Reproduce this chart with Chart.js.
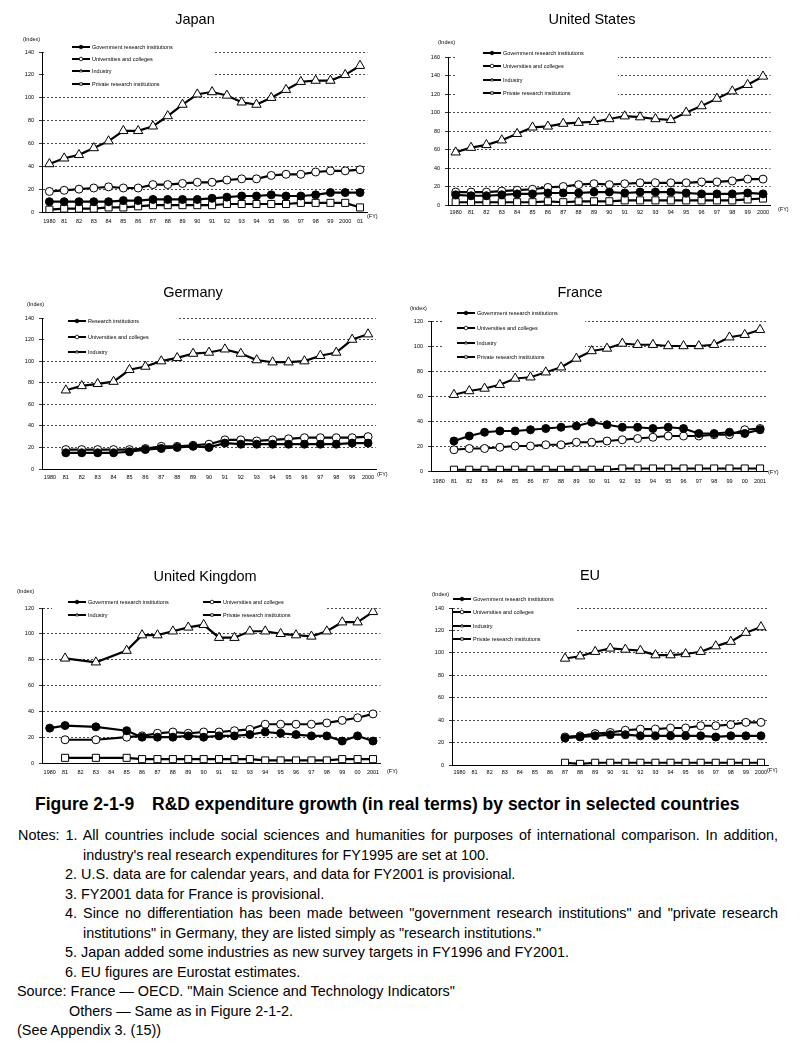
<!DOCTYPE html>
<html>
<head>
<meta charset="utf-8">
<script src="https://cdn.jsdelivr.net/npm/chart.js@4.4.1/dist/chart.umd.min.js"></script>
<style>
body { margin:0; background:#fff; width:800px; height:1055px; position:relative; overflow:hidden;
       font-family:"Liberation Sans", Arial, sans-serif; color:#000; }
canvas { position:absolute; }
.ttl { position:absolute; font-size:14.5px; transform:translate(-50%,-50%); white-space:nowrap; }
.ln { position:absolute; font-size:14.4px; line-height:19.5px; height:19.5px; white-space:nowrap; }
.just { text-align:justify; text-align-last:justify; white-space:normal; overflow:hidden; }
.cap { position:absolute; font-size:17.5px; font-weight:bold; line-height:22px; top:793px; white-space:nowrap; }
</style>
</head>
<body>

<canvas id="jp" width="400" height="240" style="left:0;top:0"></canvas>
<canvas id="us" width="400" height="240" style="left:400px;top:0"></canvas>
<canvas id="de" width="400" height="220" style="left:0;top:280px"></canvas>
<canvas id="fr" width="400" height="220" style="left:400px;top:280px"></canvas>
<canvas id="uk" width="400" height="230" style="left:0;top:560px"></canvas>
<canvas id="eu" width="400" height="230" style="left:400px;top:560px"></canvas>

<div class="ttl" style="left:195px;top:19px">Japan</div>
<div class="ttl" style="left:592px;top:19px">United States</div>
<div class="ttl" style="left:193px;top:292px">Germany</div>
<div class="ttl" style="left:580px;top:292px">France</div>
<div class="ttl" style="left:205px;top:576px">United Kingdom</div>
<div class="ttl" style="left:590px;top:575px">EU</div>

<div class="cap" style="left:35px">Figure 2-1-9</div>
<div class="cap" style="left:152px">R&amp;D expenditure growth (in real terms) by sector in selected countries</div>

<div class="ln just" style="left:18px;top:826px;width:760px">Notes: 1. All countries include social sciences and humanities for purposes of international comparison. In addition,</div>
<div class="ln" style="left:83px;top:845.5px">industry's real research expenditures for FY1995 are set at 100.</div>
<div class="ln" style="left:65px;top:865px">2. U.S. data are for calendar years, and data for FY2001 is provisional.</div>
<div class="ln" style="left:65px;top:884.5px">3. FY2001 data for France is provisional.</div>
<div class="ln just" style="left:65px;top:904px;width:713px">4. Since no differentiation has been made between "government research institutions" and "private research</div>
<div class="ln" style="left:83px;top:923.5px">institutions" in Germany, they are listed simply as "research institutions."</div>
<div class="ln" style="left:65px;top:943px">5. Japan added some industries as new survey targets in FY1996 and FY2001.</div>
<div class="ln" style="left:65px;top:962.5px">6. EU figures are Eurostat estimates.</div>
<div class="ln" style="left:17px;top:982px">Source: France ― OECD. "Main Science and Technology Indicators"</div>
<div class="ln" style="left:69px;top:1001.5px">Others ― Same as in Figure 2-1-2.</div>
<div class="ln" style="left:17px;top:1021px">(See Appendix 3. (15))</div>

<script>
// ---- data (index, industry FY1995 = 100) ----
const yearsJP = ['1980','81','82','83','84','85','86','87','88','89','90','91','92','93','94','95','96','97','98','99','2000','01'];
const yearsUS = ['1980','81','82','83','84','85','86','87','88','89','90','91','92','93','94','95','96','97','98','99','2000'];
const yearsDE = yearsUS;
const yearsFR = ['1980','81','82','83','84','85','86','87','88','89','90','91','92','93','94','95','96','97','98','99','00','2001'];
const yearsUK = yearsFR;
const yearsEU = yearsUS;

const jpGov  = [9,9,9,9,9,10,10,11,11,11,11,12,13,14,14,15,14,14,15,17,17,17];
const jpUniv = [18,19,20,21,22,21,21,24,24,25,26,26,28,29,29,32,33,33,35,36,36,37];
const jpInd  = [42,47,50,56,62,71,71,75,84,94,103,105,102,96,94,100,107,114,115,115,120,128];
const jpPriv = [2,3,3,3,4,4,5,6,6,6,6,6,7,7,7,7,7,8,8,8,8,4];

const usGov  = [11,10,10,11,12,12,13,13,13,14,14,13,14,14,14,13,12,12,12,13,12];
const usUniv = [14,14,14,15,16,17,19,20,22,23,22,23,24,24,24,24,25,25,26,28,28];
const usInd  = [57,62,65,70,77,84,85,88,89,90,93,96,95,93,92,100,107,115,123,130,139];
const usPriv = [3,3,3,3,3,3,4,3,4,4,4,5,5,5,5,5,5,5,5,6,7];

const deRes  = [null,15,15,15,15,16,18,19,20,21,20,24,23,23,23,23,23,23,23,24,24];
const deUniv = [null,18,18,18,18,18,19,21,21,22,23,27,27,26,27,28,29,29,29,29,30];
const deInd  = [null,73,77,79,81,92,95,100,103,107,108,111,107,101,99,99,100,105,108,120,125];

const frGov  = [null,24,28,31,32,32,33,34,35,36,39,37,35,35,34,35,34,30,30,31,30,33];
const frUniv = [null,17,18,18,19,20,20,21,21,23,23,24,25,26,27,28,28,28,29,29,33,34];
const frInd  = [null,61,64,66,69,74,75,79,83,90,96,98,102,101,101,100,100,100,101,107,109,113];
const frPriv = [null,1,1,1,1,1,1,1,1,1,1,1,2,2,2,2,2,2,2,2,2,2];

const ukGov  = [27,29,null,28,null,25,20,20,20,21,20,21,21,22,24,23,22,21,21,17,21,17];
const ukUniv = [null,18,null,18,null,20,21,23,24,23,24,24,25,26,30,30,30,30,31,33,35,38];
const ukInd  = [null,81,null,78,null,87,99,99,102,105,107,97,97,102,102,100,99,98,102,109,109,117];
const ukPriv = [null,4,null,4,null,4,3,3,3,3,3,3,3,3,2,2,2,2,2,3,3,3];

const euGov  = [null,null,null,null,null,null,null,24,25,26,27,27,26,26,26,26,26,25,26,26,26];
const euUniv = [null,null,null,null,null,null,null,25,26,28,29,31,32,32,33,33,35,35,36,38,38];
const euInd  = [null,null,null,null,null,null,null,95,97,101,104,103,102,98,98,99,101,106,110,118,123];
const euPriv = [null,null,null,null,null,null,null,2,1,2,2,2,2,2,2,2,2,2,2,2,2];

const GOV = 'Government research institutions';
const UNIV = 'Universities and colleges';
const IND = 'Industry';
const PRIV = 'Private research institutions';

const FONT = '"Liberation Sans", Arial, sans-serif';

// marker styles per sector
const styles = {
  gov:  { pointStyle: 'circle',   pointRadius: 4,   fill: '#000' },
  univ: { pointStyle: 'circle',   pointRadius: 4,   fill: '#fff' },
  ind:  { pointStyle: 'triangle', pointRadius: 5.4, fill: '#fff' },
  priv: { pointStyle: 'rect',     pointRadius: 5,   fill: '#fff' }
};

function marker(ctx, kind, x, y, r) {
  ctx.beginPath();
  if (kind === 'circle') ctx.arc(x, y, r, 0, Math.PI * 2);
  else if (kind === 'triangle') { ctx.moveTo(x, y - r); ctx.lineTo(x + r * 0.87, y + r * 0.5); ctx.lineTo(x - r * 0.87, y + r * 0.5); ctx.closePath(); }
  else { const s = r * 0.71; ctx.rect(x - s, y - s, 2 * s, 2 * s); }
  ctx.fill();
  ctx.stroke();
}

const decor = {
  id: 'decor',
  beforeDatasetsDraw(chart, args, o) {
    const ctx = chart.ctx;
    if (o.mask) {
      ctx.save();
      ctx.fillStyle = '#fff';
      ctx.fillRect(o.mask[0], o.mask[1], o.mask[2] - o.mask[0], o.mask[3] - o.mask[1]);
      ctx.restore();
    }
  },
  afterDraw(chart, args, o) {
    const ctx = chart.ctx;
    ctx.save();
    ctx.font = '5.5px ' + FONT;
    ctx.fillStyle = '#000';
    ctx.textBaseline = 'middle';
    ctx.textAlign = 'left';
    ctx.fillText(o.yUnit, o.idx[0], o.idx[1]);
    ctx.fillText('(FY)', o.fy[0], o.fy[1]);
    o.legend.forEach(it => {
      ctx.strokeStyle = '#000';
      ctx.lineWidth = 2;
      ctx.beginPath();
      ctx.moveTo(it.x, it.y);
      ctx.lineTo(it.x + 18, it.y);
      ctx.stroke();
      ctx.lineWidth = 0.8;
      ctx.fillStyle = styles[it.s].fill;
      marker(ctx, styles[it.s].pointStyle, it.x + 9, it.y, 1.8);
      ctx.fillStyle = '#000';
      ctx.fillText(it.text, it.x + 20, it.y);
    });
    ctx.restore();
  }
};

function ds(label, data, s) {
  const st = styles[s];
  return {
    label, data,
    borderColor: '#000', borderWidth: 2.2, tension: 0, spanGaps: true,
    pointStyle: st.pointStyle, pointRadius: st.pointRadius,
    pointBackgroundColor: st.fill, pointBorderColor: '#000', pointBorderWidth: 1
  };
}

function panel(id, labels, datasets, p) {
  const cv = document.getElementById(id);
  const yW = 30, xH = 20;
  new Chart(cv, {
    type: 'line',
    data: { labels, datasets },
    options: {
      responsive: false, animation: false, devicePixelRatio: 1,
      layout: { padding: { left: p.area[0] - yW, right: cv.width - p.area[1], top: p.area[2], bottom: cv.height - p.area[3] - xH } },
      plugins: { legend: { display: false }, tooltip: { enabled: false }, decor: p.decor },
      scales: {
        x: {
          type: 'category', offset: true,
          grid: { display: true, drawOnChartArea: false, drawTicks: false },
          border: { display: true, color: '#000', width: 1 },
          ticks: { autoSkip: false, maxRotation: 0, minRotation: 0, padding: p.xPad, color: '#000', font: { family: FONT, size: 5.5 } },
          afterFit: s => { s.height = xH; }
        },
        y: {
          min: 0, max: p.ymax,
          ticks: { stepSize: 20, padding: 5, color: '#000', font: { family: FONT, size: 5.5 } },
          grid: { color: '#000', lineWidth: 0.7, tickLength: 3, tickColor: '#000', tickWidth: 0.8 },
          border: { display: true, color: '#000', width: 1, dash: [2, 2] },
          afterFit: s => { s.width = yW; }
        }
      }
    },
    plugins: [decor]
  });
}

function rows(x, ys, items) {
  return items.map((t, i) => ({ x, y: ys[i], text: t[0], s: t[1] }));
}
const four = [[GOV, 'gov'], [UNIV, 'univ'], [IND, 'ind'], [PRIV, 'priv']];

panel('jp', yearsJP,
  [ds(GOV, jpGov, 'gov'), ds(UNIV, jpUniv, 'univ'), ds(IND, jpInd, 'ind'), ds(PRIV, jpPriv, 'priv')],
  { area: [42, 367.4, 52, 212], ymax: 140, xPad: 6,
    decor: { yUnit: '(Index)', idx: [23, 39], fy: [367, 216], mask: [44, 40, 213, 90],
             legend: rows(72, [47, 59, 71, 84], four) } });

panel('us', yearsUS,
  [ds(GOV, usGov, 'gov'), ds(UNIV, usUniv, 'univ'), ds(IND, usInd, 'ind'), ds(PRIV, usPriv, 'priv')],
  { area: [48, 370.7, 57, 205], ymax: 160, xPad: 4,
    decor: { yUnit: '(Index)', idx: [38, 42], fy: [378, 209], mask: [55, 48, 218, 100],
             legend: rows(83, [53, 66, 80, 93], four) } });

panel('de', yearsDE,
  [ds('Research institutions', deRes, 'gov'), ds(UNIV, deUniv, 'univ'), ds(IND, deInd, 'ind')],
  { area: [42, 376, 38, 189], ymax: 140, xPad: 5,
    decor: { yUnit: '(Index)', idx: [27, 24], fy: [377, 194], mask: [44, 33, 177, 78],
             legend: rows(68, [41, 57, 72], [['Research institutions', 'gov'], [UNIV, 'univ'], [IND, 'ind']]) } });

panel('fr', yearsFR,
  [ds(GOV, frGov, 'gov'), ds(UNIV, frUniv, 'univ'), ds(IND, frInd, 'ind'), ds(PRIV, frPriv, 'priv')],
  { area: [31, 367.7, 41, 191], ymax: 120, xPad: 7,
    decor: { yUnit: '(index)', idx: [10, 28], fy: [368, 192], mask: [42, 28, 185, 82],
             legend: rows(57, [33, 48, 63, 77], four) } });

panel('uk', yearsUK,
  [ds(GOV, ukGov, 'gov'), ds(UNIV, ukUniv, 'univ'), ds(IND, ukInd, 'ind'), ds(PRIV, ukPriv, 'priv')],
  { area: [42, 380.7, 48, 203], ymax: 120, xPad: 6,
    decor: { yUnit: '(Index)', idx: [17, 31], fy: [387, 211], mask: [52, 37, 325, 60],
             legend: [
               { x: 68, y: 42, text: GOV, s: 'gov' }, { x: 203, y: 42, text: UNIV, s: 'univ' },
               { x: 68, y: 55, text: IND, s: 'ind' }, { x: 203, y: 55, text: PRIV, s: 'priv' }
             ] } });

panel('eu', yearsEU,
  [ds(GOV, euGov, 'gov'), ds(UNIV, euUniv, 'univ'), ds(IND, euInd, 'ind'), ds(PRIV, euPriv, 'priv')],
  { area: [52, 368.5, 48, 205], ymax: 140, xPad: 4,
    decor: { yUnit: '(Index)', idx: [32, 34], fy: [367, 210], mask: [62, 34, 175, 84],
             legend: rows(53, [39, 52, 66, 79], four) } });
</script>
</body>
</html>
